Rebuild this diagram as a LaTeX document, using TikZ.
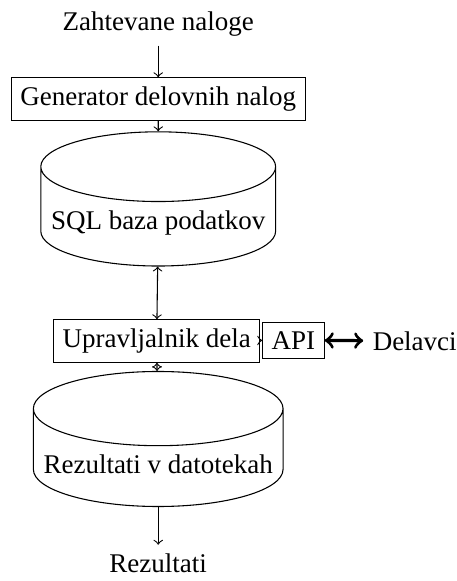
\documentclass[tikz,border=0pt]{standalone}
\usepackage{fontspec}
\setmainfont{Liberation Serif}
\usetikzlibrary{shapes.geometric}
\begin{document}
\begin{tikzpicture}[
  box/.style={draw},
  db/.style={draw,cylinder,shape border rotate=90,aspect=0.3,anchor=shape center}]
  \useasboundingbox (0,0) rectangle (5.95,-7.565);
  %texts at the ends
  \node (zaht) at (2.06,-0.31) {Zahtevane naloge};
  \node (rezout) at (2.06,-7.34) {Rezultati};
  \node (delavci) at (5.40,-4.44) {Delavci};

  %boxes
  \node[box] (gen) at (2.06,-1.29) {Generator delovnih nalog};
  \node[box] (upr) at (2.04,-4.44) {Upravljalnik dela};
  \node[box] (api) at (3.82,-4.43) {API};

  %databases
  \node[db,minimum width=87pt] (sql) at (2.06,-2.59) {SQL baza podatkov};
  \node[db,minimum width=92.5pt] (rez) at (2.06,-5.716) {Rezultati v datotekah};

  %arrows
  \draw[->] (zaht) -- (gen);
  \draw[->] (gen) -- (sql);
  \draw[<->] (sql) -- (upr);
  \draw[->] (upr) -- (api);
  \draw[<->,very thick] (api) -- (delavci);
  \draw[<->] (upr) -- (rez);
  \draw[->] (rez) -- (rezout);
\end{tikzpicture}
\end{document}
